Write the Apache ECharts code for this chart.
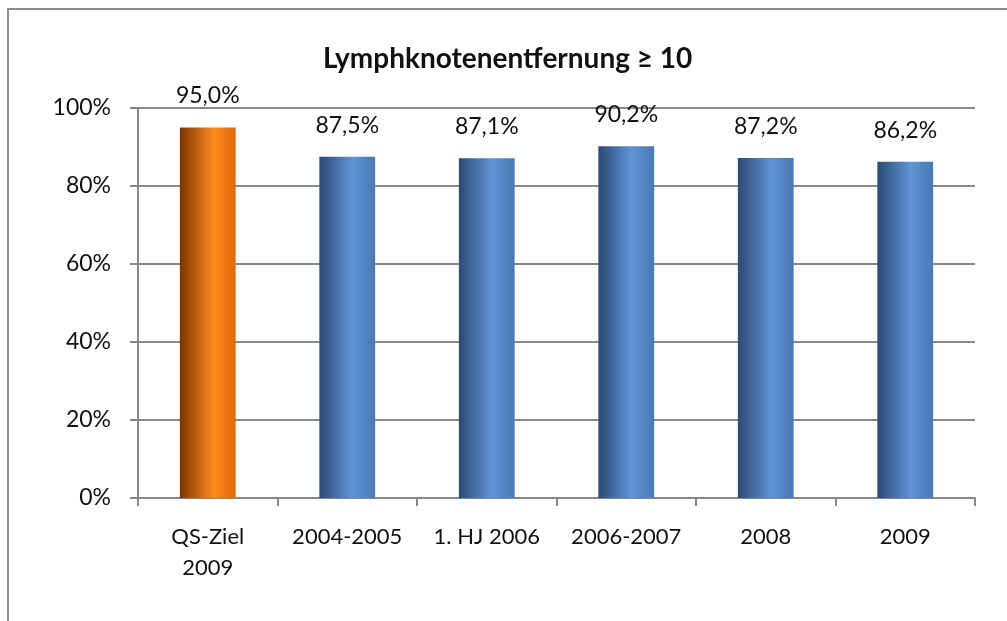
<!DOCTYPE html>
<html><head><meta charset="utf-8">
<script src="https://cdn.jsdelivr.net/npm/echarts@6/dist/echarts.min.js"></script>
<style>html,body{margin:0;padding:0;background:#fff}#c{width:1007px;height:621px}</style>
</head><body><div id="c"></div>
<script>
const categories = ['QS-Ziel\n2009', '2004-2005', '1. HJ 2006', '2006-2007', '2008', '2009'];
const values = [95.0, 87.5, 87.1, 90.2, 87.2, 86.2];
const titleText = 'Lymphknotenentfernung ≥ 10';

const font = 'Lato, "Open Sans", sans-serif';
function grad(a, b, c) {
  return new echarts.graphic.LinearGradient(0, 0, 1, 0, [
    {offset: 0, color: a}, {offset: 0.6, color: b}, {offset: 1, color: c}
  ]);
}
const orange = grad('#7a3300', '#ff8a1e', '#e0690c');
const blue = grad('#2c4a74', '#5f94d6', '#4a78b2');

const chart = echarts.init(document.getElementById('c'));
chart.setOption({
  animation: false,
  backgroundColor: '#fff',
  graphic: [{type: 'rect', shape: {x: 8, y: 9, width: 1010, height: 620},
    style: {fill: 'none', stroke: '#8c8c8c', lineWidth: 2}, silent: true}],
  title: {text: titleText, left: 318, top: 40,
    textStyle: {fontFamily: font, fontSize: 28, fontWeight: 'bold', color: '#111'}},
  grid: {left: 138, right: 32, top: 108, bottom: 123},
  xAxis: {type: 'category', data: categories,
    axisLine: {lineStyle: {color: '#888', width: 2}},
    axisTick: {show: true, length: 8, lineStyle: {color: '#888', width: 2}},
    axisLabel: {interval: 0, fontFamily: font, fontSize: 22, color: '#111', margin: 23, lineHeight: 31}},
  yAxis: {type: 'value', min: 0, max: 100, interval: 20,
    axisLine: {show: true, lineStyle: {color: '#888', width: 2}},
    axisTick: {show: true, length: 8, lineStyle: {color: '#888', width: 2}},
    splitLine: {lineStyle: {color: '#888', width: 2}},
    axisLabel: {formatter: '{value}%', fontFamily: font, fontSize: 23, color: '#111', margin: 27}},
  series: [{type: 'bar', barWidth: '40%',
    data: values.map((v, i) => ({value: v, itemStyle: {color: i === 0 ? orange : blue}})),
    label: {show: true, position: 'top', distance: 20, fontFamily: font, fontSize: 23, color: '#111',
      formatter: p => p.value.toFixed(1).replace('.', ',') + '%'}}]
});
</script></body></html>
